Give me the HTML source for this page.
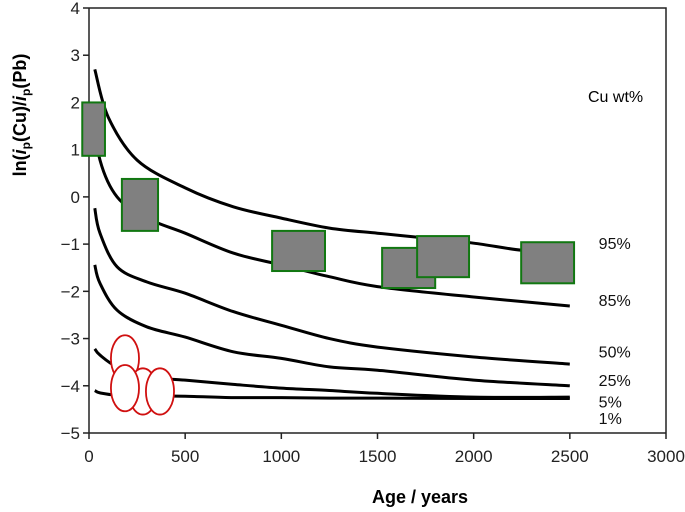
<!DOCTYPE html>
<html><head><meta charset="utf-8"><style>
body{margin:0;background:#fff}
svg{display:block;font-family:"Liberation Sans",Arial,sans-serif}
</style></head><body>
<svg id="chart" width="685" height="512" viewBox="0 0 685 512">
<g id="frame"></g>
<g id="axes"></g>
<g id="curves"></g>
<g id="boxes"></g>
<g id="ellipses"></g>
<text x="588" y="102" font-size="16">Cu wt%</text>
<text x="420" y="503" font-size="18" font-weight="bold" text-anchor="middle">Age / years</text>
<text transform="translate(26,115) rotate(-90)" font-size="18" font-weight="bold" text-anchor="middle">ln(<tspan font-style="italic">i</tspan><tspan font-size="12" dy="4">p</tspan><tspan dy="-4">(Cu)/</tspan><tspan font-style="italic">i</tspan><tspan font-size="12" dy="4">p</tspan><tspan dy="-4">(Pb)</tspan></text>
</svg>
<script>
const xTicks=[0,500,1000,1500,2000,2500,3000];
const yTicks=[4,3,2,1,0,-1,-2,-3,-4,-5];
const curveLabels=["95%","85%","50%","25%","5%","1%"];
const labelY=[-1.0,-2.2,-3.3,-3.9,-4.35,-4.7];
const ages95=[30,100,250,500,750,1000,1250,1500,1750,2000,2250,2500];
const c95=[2.7,1.69,0.78,0.19,-0.21,-0.45,-0.66,-0.77,-0.87,-0.98,-1.13,-1.2];
const ages=[30,57,146,300,500,750,1000,1250,1500,2000,2500];
const c85=[1.7,0.78,0.0,-0.45,-0.77,-1.19,-1.44,-1.69,-1.9,-2.12,-2.31];
const c50=[-0.24,-0.77,-1.48,-1.8,-2.04,-2.43,-2.72,-3.0,-3.18,-3.39,-3.54];
const c25=[-1.44,-1.83,-2.4,-2.75,-2.97,-3.28,-3.42,-3.6,-3.67,-3.88,-4.0];
const c5=[-3.22,-3.35,-3.6,-3.81,-3.88,-3.97,-4.05,-4.1,-4.16,-4.24,-4.24];
const c1=[-4.1,-4.15,-4.2,-4.21,-4.22,-4.25,-4.25,-4.26,-4.26,-4.27,-4.27];
const boxX0=[-35,171,952,1524,1706,2247];
const boxX1=[83,359,1227,1800,1976,2522];
const boxY0=[2.0,0.38,-0.72,-1.08,-0.83,-0.96];
const boxY1=[0.87,-0.72,-1.57,-1.93,-1.7,-1.83];
const ellX=[187,280,369,187];
const ellY=[-3.42,-4.12,-4.12,-4.05];
const ellRX=73, ellRY=0.49;

const X=v=>89+v*(577/3000);
const Y=v=>8+(4-v)*(425/9);
const NS="http://www.w3.org/2000/svg";
function mk(p,t,a){const e=document.createElementNS(NS,t);for(const k in a)e.setAttribute(k,a[k]);document.getElementById(p).appendChild(e);return e;}
function smooth(pts){
 let d='M'+pts[0][0].toFixed(1)+','+pts[0][1].toFixed(1);
 for(let i=0;i<pts.length-1;i++){
  const p0=pts[Math.max(0,i-1)],p1=pts[i],p2=pts[i+1],p3=pts[Math.min(pts.length-1,i+2)];
  const c1x=p1[0]+(p2[0]-p0[0])/6,c1y=p1[1]+(p2[1]-p0[1])/6;
  const c2x=p2[0]-(p3[0]-p1[0])/6,c2y=p2[1]-(p3[1]-p1[1])/6;
  d+=`C${c1x.toFixed(1)},${c1y.toFixed(1)} ${c2x.toFixed(1)},${c2y.toFixed(1)} ${p2[0].toFixed(1)},${p2[1].toFixed(1)}`;
 }
 return d;
}

let e=mk('frame','path',{d:`M${X(0)},${Y(4)}H${X(3000)}V${Y(-5)}`,fill:'none',stroke:'#222','stroke-width':1.5});


e=mk('axes','line',{x1:X(0),y1:Y(4),x2:X(0),y2:Y(-5),stroke:'#222','stroke-width':1.5});


e=mk('axes','line',{x1:X(0),y1:Y(-5),x2:X(3000),y2:Y(-5),stroke:'#222','stroke-width':1.5});


xTicks.forEach(t=>{
 let l=mk('axes','line',{x1:X(t),x2:X(t),y1:Y(-5),y2:Y(-5)+6,stroke:'#222','stroke-width':1.5});
 
 
 let s=mk('axes','text',{x:X(t),y:Y(-5)+29,'font-size':17,'text-anchor':'middle',fill:'#222'});s.textContent=t;
 
 
});
yTicks.forEach(t=>{
 let l=mk('axes','line',{x1:X(0)-6,x2:X(0),y1:Y(t),y2:Y(t),stroke:'#222','stroke-width':1.5});
 
 
 let s=mk('axes','text',{x:X(0)-9,y:Y(t)+6,'font-size':17,'text-anchor':'end',fill:'#222'});s.textContent=(t<0?'\u2212'+(-t):t);
 
 
});
const series=[[ages95,c95],[ages,c85],[ages,c50],[ages,c25],[ages,c5],[ages,c1]];
series.forEach((s,i)=>{
 const pts=s[0].map((a,j)=>[X(a),Y(s[1][j])]);
 let p=mk('curves','path',{d:smooth(pts),fill:'none',stroke:'#000','stroke-width':3,'stroke-linejoin':'round'});
 
 
 let t=mk('curves','text',{x:X(2650),y:Y(labelY[i])+5,'font-size':16,fill:'#111'});t.textContent=curveLabels[i];
 
 
});
boxX0.forEach((x0,i)=>{
 let r=mk('boxes','rect',{x:X(x0),y:Y(boxY0[i]),width:X(boxX1[i])-X(x0),height:Y(boxY1[i])-Y(boxY0[i]),fill:'#808080',stroke:'#117711','stroke-width':2});
 
 
});
ellX.forEach((x,i)=>{
 let el=mk('ellipses','ellipse',{cx:X(x),cy:Y(ellY[i]),rx:ellRX*577/3000,ry:ellRY*425/9,fill:'#fff',stroke:'#d01010','stroke-width':1.8});
 
 
});
</script>
</body></html>
